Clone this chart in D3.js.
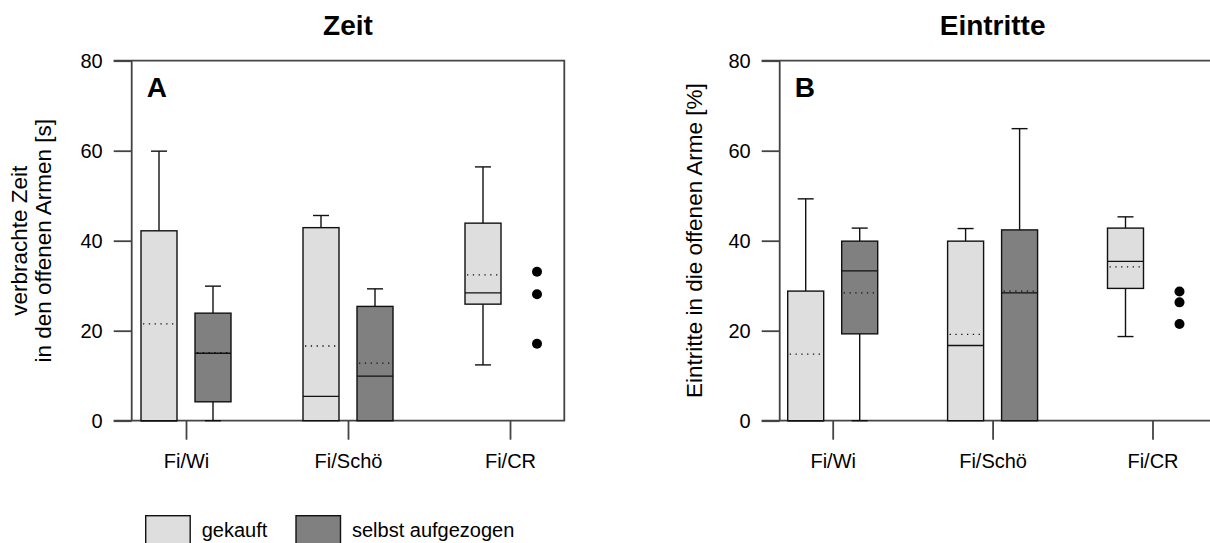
<!DOCTYPE html>
<html>
<head>
<meta charset="utf-8">
<script src="https://cdn.jsdelivr.net/npm/d3@7/dist/d3.min.js"></script>
<style>
  body { margin: 0; background: #fff; }
  text { font-family: "Liberation Sans", Arial, sans-serif; fill: #000; }
</style>
</head>
<body>
<div id="chart"></div>
<script>
const categories = ["Fi/Wi", "Fi/Schö", "Fi/CR"];
const groups = ["gekauft", "selbst aufgezogen"];
const groupColors = ["#dedede", "#808080"];
const yTicks = [0, 20, 40, 60, 80];

// Zeit: verbrachte Zeit in den offenen Armen [s]
const zeitGekauft = [
  {min: 0, q1: 0, median: 0, q3: 42.2, max: 59.9, mean: 21.5},
  {min: 0, q1: 0, median: 5.4, q3: 42.9, max: 45.6, mean: 16.6},
  {min: 12.4, q1: 25.9, median: 28.4, q3: 43.9, max: 56.4, mean: 32.4}
];
const zeitSelbst = [
  {min: 0, q1: 4.2, median: 15.0, q3: 23.9, max: 29.9, mean: 15.1},
  {min: 0, q1: 0, median: 9.9, q3: 25.4, max: 29.3, mean: 12.8},
  null
];
const zeitSelbstOutliers = [[], [], [33.1, 28.1, 17.1]];

// Eintritte in die offenen Arme [%]
const eintritteGekauft = [
  {min: 0, q1: 0, median: 0, q3: 28.8, max: 49.3, mean: 14.8},
  {min: 0, q1: 0, median: 16.7, q3: 39.9, max: 42.7, mean: 19.2},
  {min: 18.7, q1: 29.4, median: 35.4, q3: 42.8, max: 45.3, mean: 34.2}
];
const eintritteSelbst = [
  {min: 0, q1: 19.3, median: 33.3, q3: 39.9, max: 42.8, mean: 28.4},
  {min: 0, q1: 0, median: 28.4, q3: 42.4, max: 64.9, mean: 28.8},
  null
];
const eintritteSelbstOutliers = [[], [], [28.7, 26.3, 21.5]];

const width = 1210, height = 543;
const svg = d3.select("#chart").append("svg")
  .attr("width", width)
  .attr("height", height);

const frameColor = "#444";

function drawPanel(opts) {
  const top = 60.7, bottom = 420.7;
  const left = opts.left, right = opts.left + 432.6;

  let y = d3.scaleLinear().domain([0, 80]).range([bottom, top]);
  let x = d3.scalePoint().domain(categories).range([left + opts.firstTick, left + opts.lastTick]);

  let g = svg.append("g");

  // y axis
  let yAxis = g.append("g")
    .attr("transform", `translate(${left},0)`)
    .call(d3.axisLeft(y).tickValues(yTicks).tickSize(18).tickPadding(11).tickSizeOuter(0));
  yAxis.select(".domain").remove();
  yAxis.selectAll("line").attr("stroke", frameColor).attr("stroke-width", 1.8);
  yAxis.selectAll("text").style("font-size", "20px").attr("fill", "#000");

  // x axis
  let xAxis = g.append("g")
    .attr("transform", `translate(0,${bottom})`)
    .call(d3.axisBottom(x).tickSize(19).tickPadding(14.5));
  xAxis.select(".domain").remove();
  xAxis.selectAll("line").attr("stroke", frameColor).attr("stroke-width", 1.8);
  xAxis.selectAll("text").style("font-size", "20px").attr("fill", "#000");

  // frame
  g.append("path")
    .attr("d", `M${left - 18},${top}H${right}V${bottom}H${left - 18}M${left},${top}V${bottom}`)
    .attr("fill", "none")
    .attr("stroke", frameColor)
    .attr("stroke-width", 1.8);

  const boxW = 36, capW = 16, offset = 27;

  [opts.gekauft, opts.selbst].forEach(function(series, gi) {
    series.forEach(function(s, i) {
      if (!s) return;
      let cx = x(categories[i]) + (gi === 0 ? -offset : offset);
      let bg = g.append("g").attr("stroke", "#111").attr("stroke-width", 1.4);

      // whiskers
      if (s.max > s.q3) {
        bg.append("line").attr("x1", cx).attr("x2", cx).attr("y1", y(s.q3)).attr("y2", y(s.max));
        bg.append("line").attr("x1", cx - capW / 2).attr("x2", cx + capW / 2).attr("y1", y(s.max)).attr("y2", y(s.max));
      }
      if (s.min < s.q1) {
        bg.append("line").attr("x1", cx).attr("x2", cx).attr("y1", y(s.q1)).attr("y2", y(s.min));
        bg.append("line").attr("x1", cx - capW / 2).attr("x2", cx + capW / 2).attr("y1", y(s.min)).attr("y2", y(s.min));
      }

      // box
      bg.append("rect")
        .attr("x", cx - boxW / 2)
        .attr("y", y(s.q3))
        .attr("width", boxW)
        .attr("height", y(s.q1) - y(s.q3))
        .attr("fill", groupColors[gi]);

      // median
      bg.append("line")
        .attr("x1", cx - boxW / 2).attr("x2", cx + boxW / 2)
        .attr("y1", y(s.median)).attr("y2", y(s.median));

      // mean (dotted)
      bg.append("line")
        .attr("x1", cx - boxW / 2 + 2).attr("x2", cx + boxW / 2 - 2)
        .attr("y1", y(s.mean)).attr("y2", y(s.mean))
        .attr("stroke-width", 1.3)
        .attr("stroke-dasharray", "1.3,4.5");
    });
  });

  // outliers
  opts.outliers.forEach(function(vals, i) {
    let cx = x(categories[i]) + offset;
    g.selectAll(null)
      .data(vals)
      .enter()
      .append("circle")
      .attr("cx", cx)
      .attr("cy", d => y(d))
      .attr("r", 5)
      .attr("fill", "#000");
  });

  // title
  g.append("text")
    .attr("x", x(categories[1]))
    .attr("y", 35)
    .attr("text-anchor", "middle")
    .style("font-size", "28px")
    .style("font-weight", "bold")
    .text(opts.title);

  // panel letter
  g.append("text")
    .attr("x", left + 15)
    .attr("y", 96.7)
    .style("font-size", "28px")
    .style("font-weight", "bold")
    .text(opts.letter);

  // y label
  let yl = g.append("text")
    .attr("transform", `translate(${opts.ylabelX},${(top + bottom) / 2}) rotate(-90)`)
    .attr("text-anchor", "middle")
    .style("font-size", "22.5px");
  opts.ylabel.forEach(function(line, li) {
    yl.append("tspan")
      .attr("x", 0)
      .attr("y", li * 24)
      .text(line);
  });
}

drawPanel({
  left: 131.7, firstTick: 54.3, lastTick: 378.3,
  title: "Zeit", letter: "A",
  ylabel: ["verbrachte Zeit", "in den offenen Armen [s]"], ylabelX: 27,
  gekauft: zeitGekauft, selbst: zeitSelbst, outliers: zeitSelbstOutliers
});

drawPanel({
  left: 779.7, firstTick: 53, lastTick: 372.8,
  title: "Eintritte", letter: "B",
  ylabel: ["Eintritte in die offenen Arme [%]"], ylabelX: 702,
  gekauft: eintritteGekauft, selbst: eintritteSelbst, outliers: eintritteSelbstOutliers
});

// legend
let legend = svg.append("g");
const legendX = [145.7, 296];
groups.forEach(function(name, i) {
  legend.append("rect")
    .attr("x", legendX[i])
    .attr("y", 515.7)
    .attr("width", 44.5)
    .attr("height", 32)
    .attr("fill", groupColors[i])
    .attr("stroke", "#111")
    .attr("stroke-width", 1.4);
  legend.append("text")
    .attr("x", legendX[i] + 56)
    .attr("y", 536.7)
    .style("font-size", "20px")
    .text(name);
});
</script>
</body>
</html>
